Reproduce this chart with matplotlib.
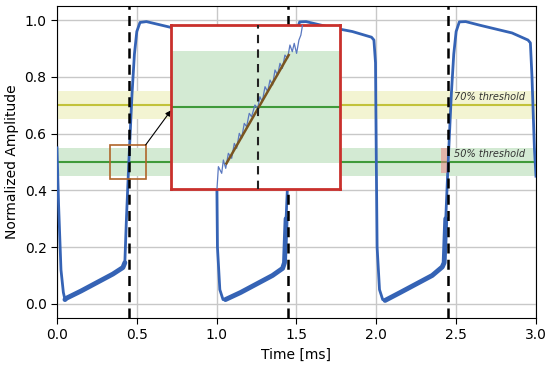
import matplotlib.pyplot as plt
from matplotlib.patches import Rectangle

# signal keypoints (time in ms, normalized amplitude)
time = [0.000, 0.010, 0.025, 0.040, 0.050, 0.060,
        0.150, 0.250, 0.350, 0.413, 0.425, 0.435, 0.450, 0.470, 0.485, 0.500, 0.520,
        0.560, 0.710, 0.850, 0.970, 0.985, 0.995, 1.000, 1.005, 1.020, 1.040, 1.055,
        1.150, 1.250, 1.350, 1.413, 1.425, 1.435, 1.450, 1.470, 1.485, 1.500, 1.520,
        1.560, 1.710, 1.850, 1.970, 1.985, 1.995, 2.000, 2.005, 2.020, 2.040, 2.055,
        2.150, 2.250, 2.350, 2.413, 2.425, 2.435, 2.450, 2.470, 2.485, 2.500, 2.520,
        2.560, 2.650, 2.850, 2.950, 2.965, 2.975, 2.990, 3.000]
amplitude = [0.55, 0.35, 0.12, 0.04, 0.015, 0.02,
             0.045, 0.075, 0.105, 0.128, 0.145, 0.30, 0.50, 0.74, 0.88, 0.96, 0.992,
             0.995, 0.975, 0.96, 0.94, 0.93, 0.85, 0.50, 0.20, 0.05, 0.015, 0.015,
             0.04, 0.07, 0.10, 0.125, 0.145, 0.30, 0.50, 0.74, 0.88, 0.96, 0.994,
             0.995, 0.975, 0.96, 0.94, 0.93, 0.85, 0.50, 0.20, 0.05, 0.015, 0.012,
             0.04, 0.07, 0.10, 0.13, 0.145, 0.30, 0.50, 0.74, 0.88, 0.96, 0.994,
             0.995, 0.982, 0.955, 0.93, 0.92, 0.80, 0.55, 0.45]

# the noisy low ramps (drawn thicker)
ramp_idx = [(4, 11), (27, 34), (49, 56)]

edges = [0.45, 1.45, 2.45]
thresholds = [0.7, 0.5]
threshold_labels = ["70% threshold", "50% threshold"]

# zoomed rising edge (inset)
zoom_t = [0.44700, 0.44712, 0.44736, 0.44748, 0.44765, 0.44784, 0.44808, 0.44827,
          0.44844, 0.44863, 0.44880, 0.44899, 0.44916, 0.44935, 0.44952, 0.44976,
          0.44996, 0.45012, 0.45029, 0.45049, 0.45068, 0.45085, 0.45104, 0.45121,
          0.45140, 0.45157, 0.45174, 0.45193, 0.45212, 0.45229, 0.45246, 0.45260,
          0.45277, 0.45294, 0.45308, 0.45318, 0.45340]
zoom_a = [0.4236, 0.4472, 0.4413, 0.4531, 0.4457, 0.4590, 0.4546, 0.4678,
          0.4634, 0.4767, 0.4723, 0.4855, 0.4826, 0.4944, 0.4914, 0.5018,
          0.4988, 0.5091, 0.5047, 0.5180, 0.5136, 0.5239, 0.5195, 0.5328,
          0.5283, 0.5387, 0.5342, 0.5460, 0.5431, 0.5549, 0.5490, 0.5564,
          0.5475, 0.5593, 0.5637, 0.5711, 0.6000]
fit_t = [0.4477, 0.4522]
fit_a = [0.450, 0.546]

blue = "#3563b5"
band_colors = ["#f3f4d2", "#d3ead3"]
line_colors = ["#c2c23a", "#3f9a3a"]

fig = plt.figure(figsize=(5.5, 3.66), dpi=100)
ax = fig.add_axes([0.1036, 0.1311, 0.8709, 0.8525])

for th, bc, lc in zip(thresholds, band_colors, line_colors):
    ax.axhspan(th - 0.05, th + 0.05, color=bc, zorder=1, lw=0)
    ax.axhline(th, color=lc, lw=1.5, zorder=2)

for th, lab in zip(thresholds, threshold_labels):
    ax.text(2.93, th + 0.012, lab, ha="right", va="bottom", fontsize=7,
            style="italic", color="#333333", zorder=5)

ax.plot(time, amplitude, color=blue, lw=2.0, zorder=3)
for i0, i1 in ramp_idx:
    ax.plot(time[i0:i1], amplitude[i0:i1], color=blue, lw=3.5,
            solid_capstyle="round", zorder=3)

for e in edges:
    ax.axvline(e, color="black", ls=(0, (4, 2.5)), lw=1.8, zorder=4)

ax.add_patch(Rectangle((0.33, 0.44), 0.225, 0.12, fill=False,
                       edgecolor="#b0652a", lw=1.2, zorder=5))
ax.add_patch(Rectangle((2.405, 0.46), 0.035, 0.09, facecolor="#f08080",
                       alpha=0.5, lw=0, zorder=3))

ax.set_xlim(0, 3)
ax.set_ylim(-0.05, 1.05)
ax.set_xticks([0, 0.5, 1.0, 1.5, 2.0, 2.5, 3.0])
ax.set_yticks([0, 0.2, 0.4, 0.6, 0.8, 1.0])
ax.grid(True, color="#c8c8c8", lw=1.0, zorder=0)
ax.set_axisbelow(True)
ax.tick_params(labelsize=10, length=4)
ax.set_xlabel("Time [ms]", fontsize=10)
ax.set_ylabel("Normalized Amplitude", fontsize=10)

# inset
axins = fig.add_axes([0.311, 0.4836, 0.307, 0.448])
axins.axhspan(0.45, 0.55, color=band_colors[1], lw=0, zorder=1)
axins.axhline(0.5, color=line_colors[1], lw=1.5, zorder=2)
axins.plot(zoom_t, zoom_a, color="#5a78c0", lw=0.9, zorder=3)
axins.plot(fit_t, fit_a, color="#7a5520", lw=1.8, zorder=4)
axins.axvline(0.45, color="#222222", ls=(0, (4, 3)), lw=1.5, zorder=5)
axins.set_xlim(0.4437, 0.4559)
axins.set_ylim(0.4274, 0.5726)
axins.set_xticks([])
axins.set_yticks([])
for s in axins.spines.values():
    s.set_edgecolor("#c9302c")
    s.set_linewidth(2)

ax.annotate("", xy=(0.0, 0.48), xycoords=axins.transAxes,
            xytext=(0.555, 0.56), textcoords="data",
            arrowprops=dict(arrowstyle="-|>", color="black", lw=0.8,
                            mutation_scale=8, shrinkA=0, shrinkB=0),
            zorder=6)

fig.savefig("out.png", dpi=100)
